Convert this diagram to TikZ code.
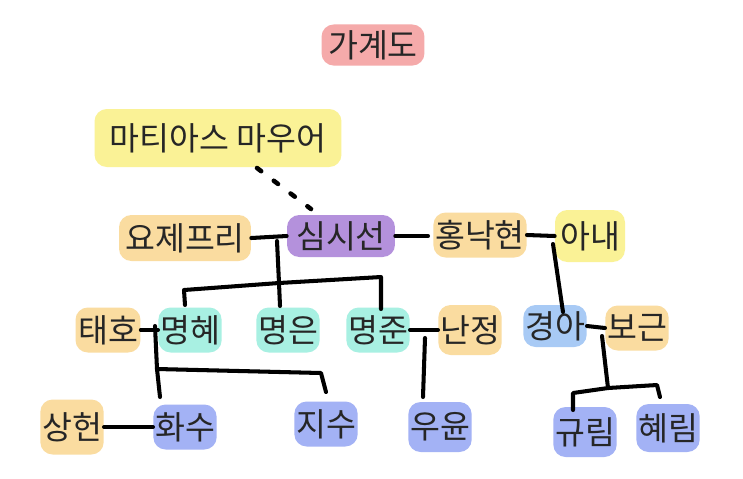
\documentclass[tikz,border=0pt]{standalone}
\usepackage{fontspec}
\setmainfont{Noto Sans CJK KR}
\usetikzlibrary{positioning}
\definecolor{hlpink}{HTML}{F5AAAA}
\definecolor{hlyellow}{HTML}{FAF296}
\definecolor{hltan}{HTML}{FADCA0}
\definecolor{hlpurple}{HTML}{B491DC}
\definecolor{hlmint}{HTML}{A8F0E2}
\definecolor{hlsky}{HTML}{A8CAF5}
\definecolor{hlblue}{HTML}{A3B2F5}
\definecolor{ink}{HTML}{262626}
\tikzstyle{person} = [rectangle, rounded corners=7pt, text=ink, inner xsep=1pt, minimum height=0.9cm, font=\fontsize{18.5}{22}\selectfont]
\tikzstyle{elder} = [person, fill=hltan]
\tikzstyle{outsider} = [person, fill=hlyellow]
\tikzstyle{root} = [person, fill=hlpurple]
\tikzstyle{child} = [person, fill=hlmint]
\tikzstyle{grandchild} = [person, fill=hlblue]
\tikzstyle{famline} = [draw=black, line width=2.3pt, line cap=round, line join=round]
\tikzstyle{hint} = [draw=black, line width=2.6pt, line cap=round, dash pattern=on 3pt off 9pt]

\begin{document}
\begin{tikzpicture}[x=0.02cm,y=-0.02cm]
	\useasboundingbox[fill=white] (0,0) rectangle (743,478);

	% title
	\node [person,fill=hlpink,minimum width=2.06cm,minimum height=0.8cm] (title) at (373,45) {가계도};

	% first generation
	\node [outsider,minimum width=4.94cm,minimum height=1.16cm] (matthias) at (218,138) {마티아스 마우어};
	\node [elder,minimum width=2.64cm,minimum height=0.92cm] (joseph) at (185,238) {요제프리};
	\node [root,minimum width=2.16cm,minimum height=0.84cm] (sisun) at (341,236) {심시선};
	\node [elder,minimum width=1.68cm] (nakhyun) at (480,235) {홍낙현};
	\node [outsider,minimum width=1.4cm,minimum height=1.04cm] (wife) at (590,236) {아내};

	% second generation
	\node [elder,minimum width=1.3cm] (taeho) at (108,330) {태호};
	\node [child] (myunghye) at (190,330) {명혜};
	\node [child] (myungeun) at (288,330) {명은};
	\node [child] (myungjun) at (378,330) {명준};
	\node [elder,minimum height=1cm] (nanjung) at (470,330) {난정};
	\node [person,fill=hlsky,minimum height=0.84cm] (kyunga) at (555,326) {경아};
	\node [elder] (bogeun) at (637,328) {보근};

	% third generation
	\node [elder,minimum height=1.1cm] (sanghun) at (72,427) {상헌};
	\node [grandchild] (hwasu) at (185,427) {화수};
	\node [grandchild] (jisu) at (326,424) {지수};
	\node [grandchild,minimum height=1cm] (wooyoon) at (440,427) {우윤};
	\node [grandchild,minimum height=1cm] (kyurim) at (585,432) {규림};
	\node [grandchild,minimum height=0.96cm] (hyerim) at (668,428) {혜림};

	% junction points
	\coordinate (dotA) at (257,168);
	\coordinate (dotB) at (311,209);
	\coordinate (sib1) at (277,241);
	\coordinate (sib1l) at (184,290);
	\coordinate (sib1m) at (279,283);
	\coordinate (sib1r) at (381,277);
	\coordinate (sib2) at (155,326);
	\coordinate (sib2l) at (157,369);
	\coordinate (sib2r) at (321,373);
	\coordinate (sib3) at (425,338);
	\coordinate (sib4) at (553,244);
	\coordinate (sib5) at (602,336);
	\coordinate (sib5m) at (608,388);
	\coordinate (sib5l) at (573,393);
	\coordinate (sib5r) at (657,385);

	% couples
	\draw [hint] (dotA) -- (dotB);
	\draw [famline] (joseph.east) -- (sisun.west);
	\draw [famline] (sisun.east) -- (428,236);
	\draw [famline] (nakhyun.east) -- (wife.west);
	\draw [famline] (taeho.east) -- (myunghye.west);
	\draw [famline] (myungjun.east) -- (nanjung.west);
	\draw [famline] (kyunga.east) -- (bogeun.west);
	\draw [famline] (sanghun.east) -- (hwasu.west);

	% children of sisun
	\draw [famline] (sib1) -- (sib1m) -- (280,306);
	\draw [famline] (185,305) -- (sib1l) -- (sib1m) -- (sib1r) -- (381,309);

	% children of myunghye
	\draw [famline] (sib2) -- (sib2l) -- (160,397);
	\draw [famline] (sib2l) -- (sib2r) -- (326,392);

	% child of myungjun
	\draw [famline] (sib3) -- (423,397);

	% child of wife
	\draw [famline] (sib4) -- (563,312);

	% children of kyunga
	\draw [famline] (sib5) -- (sib5m);
	\draw [famline] (573,410) -- (sib5l) -- (sib5m) -- (sib5r) -- (660,397);
\end{tikzpicture}
\end{document}
